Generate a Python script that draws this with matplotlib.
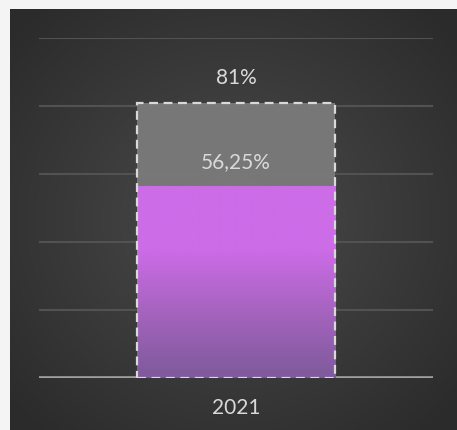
import numpy as np
import matplotlib.pyplot as plt
from matplotlib.colors import LinearSegmentedColormap

# data
years = ['2021']
target = [0.81]
actual = [0.5625]
target_labels = ['81%']
actual_labels = ['56,25%']

W, H = 457, 430
fig = plt.figure(figsize=(W / 100, H / 100), dpi=100)
fig.patch.set_facecolor('#f4f4f4')

# dark panel with radial gradient
bg = fig.add_axes([10 / W, 0, 1 - 10 / W, 1 - 9 / H])
bg.axis('off')
yy, xx = np.mgrid[-1:1:300j, -1:1:300j]
r = np.sqrt(xx ** 2 + yy ** 2)
bg_cmap = LinearSegmentedColormap.from_list('bg', ['#4b4b4b', '#2b2b2b'])
bg.imshow(r, cmap=bg_cmap, vmin=0, vmax=1.35, aspect='auto',
          extent=[0, 1, 0, 1])
bg.set_xlim(0, 1)
bg.set_ylim(0, 1)

# chart axes
ax = fig.add_axes([39 / W, (H - 378) / H, (433 - 39) / W, 340 / H])
ax.set_facecolor('none')
ax.set_xlim(-0.5, 0.5)
ax.set_ylim(0, 1)
for s in ax.spines.values():
    s.set_visible(False)
ax.set_yticks(np.arange(0.2, 1.01, 0.2))
ax.yaxis.grid(True, color='#525252', lw=1.5)
ax.set_axisbelow(True)
ax.tick_params(left=False, labelleft=False, bottom=False)
ax.set_xticks(range(len(years)))
ax.set_xticklabels(years, color='#d9d9d9', fontsize=15, family='Lato')
ax.tick_params(axis='x', pad=11)
ax.axhline(0, color='#a0a0a0', lw=2.6, zorder=2)

x = np.arange(len(years))
bw = 0.503

# target bar (grey, dashed outline)
ax.bar(x, target, width=bw, color='#7c7c7c', alpha=0.93, zorder=3)
ax.bar(x, target, width=bw, fill=False, edgecolor='#d9d9d9',
       linestyle=(0, (4, 2.5)), lw=1.6, zorder=6)

# actual bar with vertical gradient
purple = LinearSegmentedColormap.from_list('pur', ['#7e5a9b', '#a463bd', '#cc6ce7', '#cc6ce7'])
bars = ax.bar(x, actual, width=bw, color='none', zorder=4)
for b in bars:
    x0, y0 = b.get_x(), b.get_y()
    grad = np.linspace(0, 1, 256).reshape(-1, 1)
    ax.imshow(grad, cmap=purple, origin='lower', aspect='auto',
              extent=[x0, x0 + b.get_width(), y0, y0 + b.get_height()],
              zorder=4)
ax.set_xlim(-0.5, 0.5)
ax.set_ylim(0, 1)

for xi, v, lab in zip(x, target, target_labels):
    ax.annotate(lab, (xi, v), xytext=(0, 18), textcoords='offset points',
                ha='center', va='center', color='#d9d9d9', fontsize=15,
                family='Lato', zorder=7)
for xi, v, lab in zip(x, actual, actual_labels):
    ax.annotate(lab, (xi, v), xytext=(0, 18), textcoords='offset points',
                ha='center', va='center', color='#d9d9d9', fontsize=15,
                family='Lato', zorder=7)

fig.savefig('out.png', dpi=100, facecolor=fig.get_facecolor())
